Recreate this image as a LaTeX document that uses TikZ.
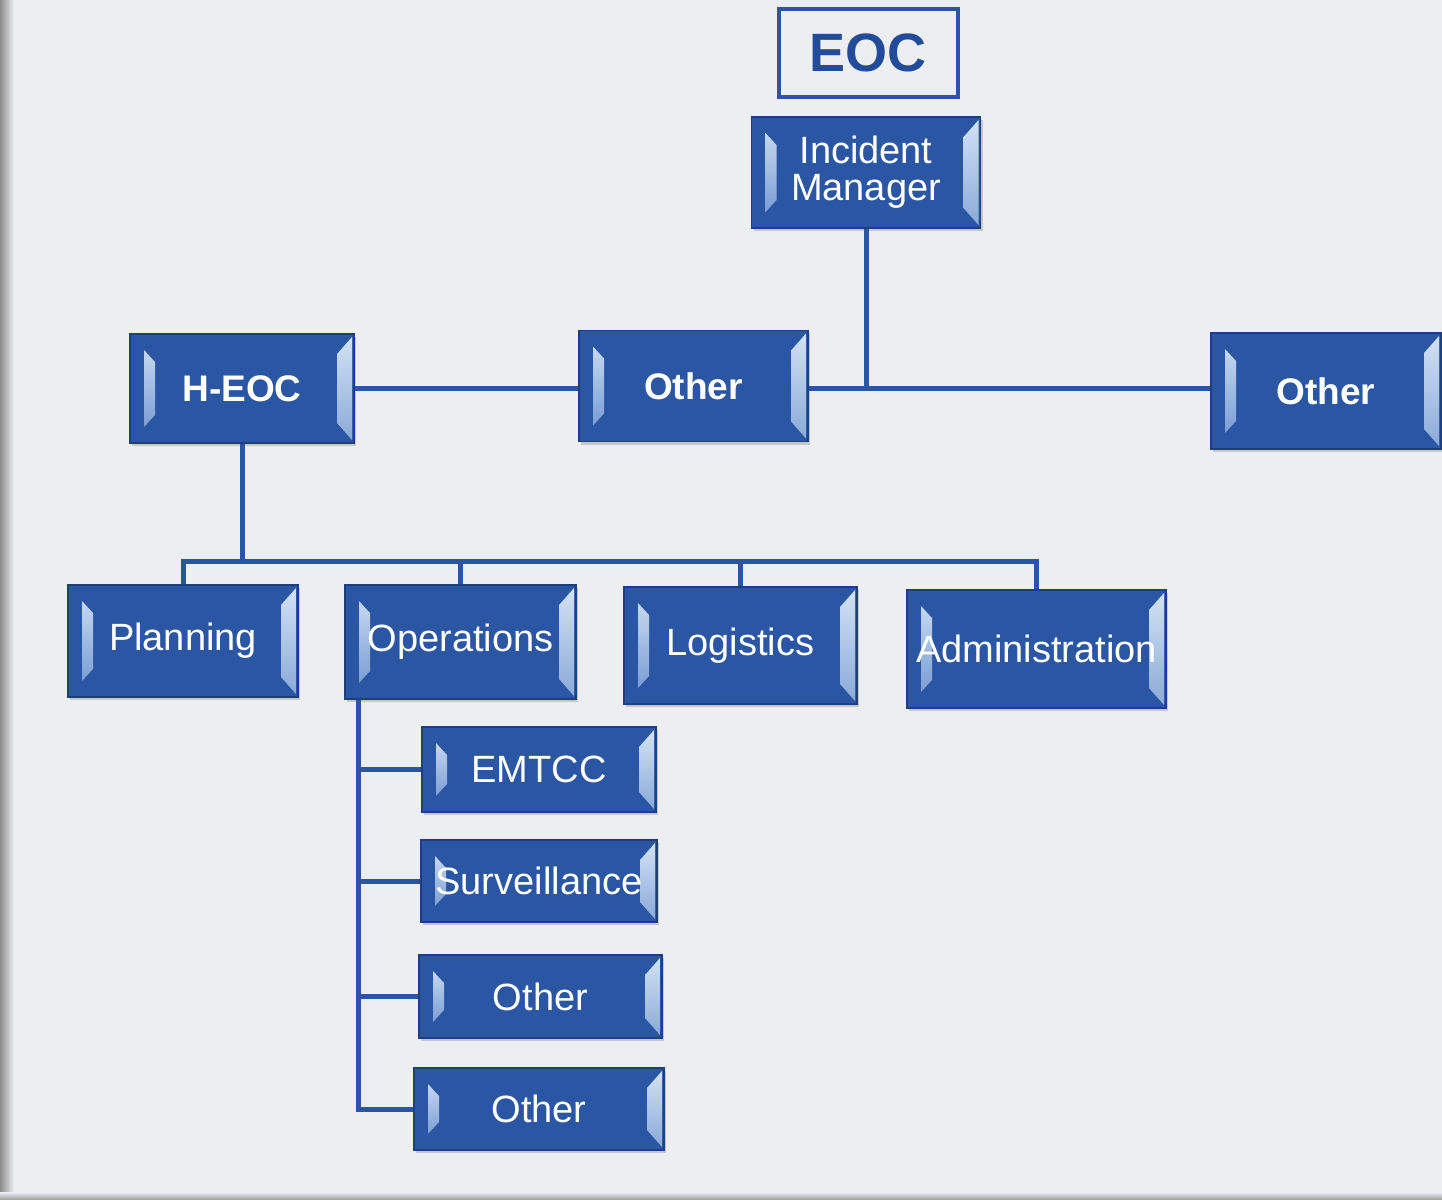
\documentclass[tikz,border=0pt]{standalone}
\usepackage{fontspec}
\setmainfont{Liberation Sans}
\usetikzlibrary{calc,shadows}
\definecolor{boxblue}{HTML}{2A56A4}
\definecolor{boxedge}{HTML}{1C3F80}
\definecolor{linecol}{HTML}{2B55A2}
\definecolor{bg}{HTML}{EDEEF1}
\definecolor{bevL}{HTML}{8DB0E0}
\definecolor{bevR}{HTML}{B4CEEE}
\definecolor{eoctext}{HTML}{224C99}
\tikzset{
  bluebox/.style={draw=boxedge, line width=1.2pt, fill=boxblue, text=white,
    inner sep=0pt, align=center, font=\fontsize{38}{37}\selectfont,
    drop shadow={shadow xshift=2pt, shadow yshift=-3pt, opacity=0.35},
    path picture={
      \coordinate (pnw) at (path picture bounding box.north west);
      \coordinate (pse) at (path picture bounding box.south east);
      \shade[top color=bevL!50!white, bottom color=bevL!80!boxblue]
        ($(pnw)+(14,16)$) -- ($(pnw)+(25,28)$) -- ($(pnw |- pse)+(25,-28)$)
        -- ($(pnw |- pse)+(14,-16)$) -- cycle;
      \shade[top color=bevR!60!white, bottom color=bevR!70!boxblue]
        ($(pse |- pnw)+(-2,3)$) -- ($(pse |- pnw)+(-17,20)$) -- ($(pse)+(-17,-20)$)
        -- ($(pse)+(-2,-3)$) -- cycle;
    }},
  boldbox/.style={bluebox, font=\fontsize{37}{37}\selectfont\bfseries},
  connector/.style={draw=linecol, line width=5pt},
}
\begin{document}
\begin{tikzpicture}[x=1pt, y=-1pt]
  \useasboundingbox (0,0) rectangle (1442,1199);
  \fill[bg] (0,0) rectangle (1442,1199);
  \shade[left color=black!45, right color=bg] (0,0) rectangle (14,1199);
  \shade[top color=bg, bottom color=black!35] (0,1192) rectangle (1442,1199);

  % title
  \node[draw=linecol, line width=4pt, minimum width=179pt, minimum height=88pt,
        inner sep=0pt, text=eoctext, font=\fontsize{54}{54}\selectfont\bfseries]
        (eoc) at (868,53) {EOC};

  % upper boxes
  \node[bluebox, minimum width=229pt, minimum height=111pt] (im) at (866,172.5) {Incident\\Manager};
  \node[boldbox, minimum width=224pt, minimum height=109pt] (heoc) at (242,388.5) {H-EOC};
  \node[boldbox, minimum width=229pt, minimum height=111pt] (oth1) at (693.5,386) {Other};
  \node[boldbox, minimum width=230pt, minimum height=116pt] (oth2) at (1326,391) {Other};

  % sections
  \node[bluebox, minimum width=230pt, minimum height=112pt] (plan) at (183,641) {Planning};
  \node[bluebox, minimum width=231pt, minimum height=114pt] (ops) at (460.5,642) {Operations};
  \node[bluebox, minimum width=233pt, minimum height=117pt] (log) at (740.5,645.5) {Logistics};
  \node[bluebox, minimum width=259pt, minimum height=118pt] (adm) at (1036.5,649) {Administration};

  % operations sub-units
  \node[bluebox, minimum width=234pt, minimum height=85pt] (emtcc) at (539,769.5) {EMTCC};
  \node[bluebox, minimum width=236pt, minimum height=82pt] (surv) at (539,881) {Surveillance};
  \node[bluebox, minimum width=243pt, minimum height=83pt] (oth3) at (540.5,996.5) {Other};
  \node[bluebox, minimum width=250pt, minimum height=82pt] (oth4) at (539,1109) {Other};

  % connectors
  \coordinate (j1) at (866,388);
  \coordinate (bus) at (0,561);
  \coordinate (v) at (358,0);
  \draw[connector] (im.south) -- (im.south |- j1);
  \draw[connector] (oth1.east |- j1) -- (j1 -| oth2.west);
  \draw[connector] (heoc.east |- j1) -- (j1 -| oth1.west);
  \draw[connector] (heoc.south) -- (heoc.south |- bus);
  \draw[connector] (plan.north) -- (plan.north |- bus) -- (adm.north |- bus) -- (adm.north);
  \draw[connector] (ops.north) -- (ops.north |- bus);
  \draw[connector] (log.north) -- (log.north |- bus);
  \draw[connector] (ops.south -| v) -- (v |- oth4.west) -- (oth4.west);
  \draw[connector] (v |- emtcc.west) -- (emtcc.west);
  \draw[connector] (v |- surv.west) -- (surv.west);
  \draw[connector] (v |- oth3.west) -- (oth3.west);
\end{tikzpicture}
\end{document}
